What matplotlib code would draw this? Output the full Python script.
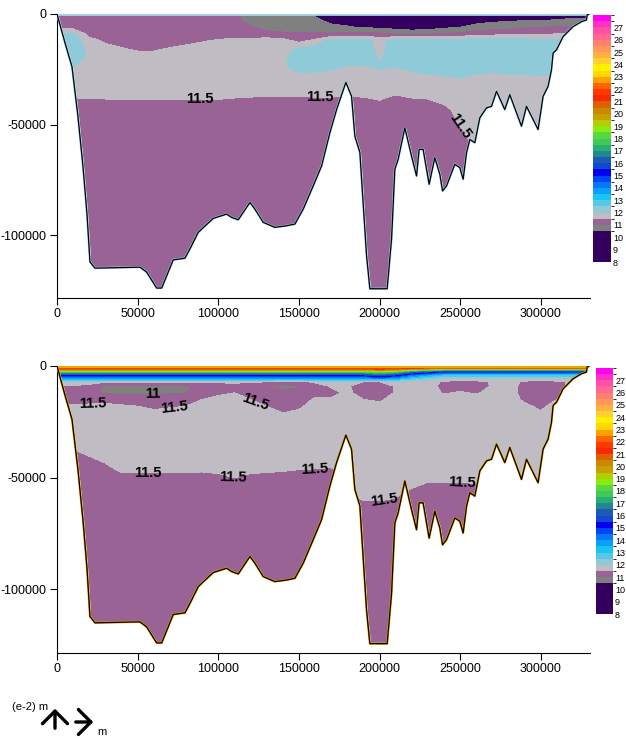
import numpy as np
import matplotlib
matplotlib.use('Agg')
import matplotlib.pyplot as plt
from matplotlib.colors import ListedColormap, BoundaryNorm
from matplotlib.patches import FancyArrowPatch

plt.rcParams['font.family'] = ['Liberation Sans', 'DejaVu Sans']

# station positions along the section and depth levels
stations = [0, 10000, 20000, 30000, 40000, 50000, 60000, 70000, 80000, 90000, 100000,
            110000, 120000, 130000, 140000, 150000, 160000, 170000, 180000, 190000, 200000,
            210000, 220000, 230000, 240000, 250000, 260000, 270000, 280000, 290000, 300000,
            310000, 320000, 330000]
depth_top = [0, -3000, -6000, -9000, -12000, -16000, -20000, -24000, -28000, -33000,
             -38000, -43000, -50000, -60000, -130000]
depth_bot = [0, -1200, -2500, -4000, -5500, -7000, -9000, -12000, -15000, -18000, -21000,
             -26000, -32000, -38000, -44000, -50000, -58000, -70000, -130000]

# upper panel, one column per station (surface to bottom)
temp_top = [
    [11.25, 11.25, 11.3, 12.1, 12.25, 12.25, 12.25, 12.0, 11.75, 11.7, 11.5, 11.3, 11.25, 11.25, 11.25],
    [11.25, 11.25, 11.3, 12.1, 12.25, 12.25, 12.25, 12.0, 11.75, 11.7, 11.5, 11.3, 11.25, 11.25, 11.25],
    [11.25, 11.25, 11.25, 11.3, 11.7, 11.9, 11.9, 11.9, 11.75, 11.7, 11.52, 11.3, 11.25, 11.25, 11.25],
    [11.25, 11.25, 11.25, 11.25, 11.4, 11.7, 11.8, 11.8, 11.75, 11.7, 11.52, 11.3, 11.25, 11.25, 11.25],
    [11.25, 11.25, 11.25, 11.25, 11.3, 11.55, 11.75, 11.8, 11.75, 11.7, 11.53, 11.3, 11.25, 11.25, 11.25],
    [11.25, 11.25, 11.25, 11.25, 11.25, 11.45, 11.7, 11.8, 11.75, 11.7, 11.52, 11.3, 11.25, 11.25, 11.25],
    [11.25, 11.25, 11.25, 11.25, 11.25, 11.45, 11.7, 11.8, 11.75, 11.7, 11.53, 11.3, 11.25, 11.25, 11.25],
    [11.25, 11.25, 11.25, 11.25, 11.3, 11.55, 11.75, 11.8, 11.75, 11.7, 11.52, 11.3, 11.25, 11.25, 11.25],
    [11.25, 11.25, 11.25, 11.25, 11.35, 11.65, 11.75, 11.8, 11.75, 11.7, 11.53, 11.3, 11.25, 11.25, 11.25],
    [11.25, 11.25, 11.25, 11.25, 11.45, 11.75, 11.8, 11.8, 11.75, 11.7, 11.52, 11.3, 11.25, 11.25, 11.25],
    [11.2, 11.2, 11.25, 11.25, 11.55, 11.75, 11.8, 11.8, 11.75, 11.7, 11.53, 11.3, 11.25, 11.25, 11.25],
    [11.1, 11.15, 11.2, 11.3, 11.6, 11.75, 11.8, 11.8, 11.75, 11.72, 11.5, 11.3, 11.25, 11.25, 11.25],
    [10.75, 10.8, 11.05, 11.3, 11.6, 11.75, 11.8, 11.8, 11.75, 11.72, 11.48, 11.3, 11.25, 11.25, 11.25],
    [10.7, 10.7, 10.8, 11.2, 11.7, 11.75, 11.8, 11.85, 11.8, 11.75, 11.46, 11.3, 11.25, 11.25, 11.25],
    [10.7, 10.7, 10.75, 11.1, 11.65, 11.8, 11.9, 11.9, 11.8, 11.75, 11.46, 11.3, 11.25, 11.25, 11.25],
    [10.6, 10.7, 10.75, 11.05, 11.35, 12.1, 12.25, 12.2, 11.9, 11.75, 11.46, 11.3, 11.25, 11.25, 11.25],
    [10.4, 10.65, 10.75, 11.1, 11.6, 12.25, 12.3, 12.2, 11.85, 11.75, 11.48, 11.3, 11.25, 11.25, 11.25],
    [10.1, 10.35, 10.65, 11.05, 12.2, 12.3, 12.3, 12.1, 11.85, 11.75, 11.48, 11.25, 11.25, 11.25, 11.25],
    [10.0, 10.3, 10.55, 11.15, 12.25, 12.3, 12.25, 11.95, 11.8, 11.75, 11.45, 11.25, 11.25, 11.25, 11.25],
    [9.9, 10.25, 10.45, 11.15, 12.25, 12.3, 12.2, 11.95, 11.8, 11.75, 11.48, 11.25, 11.25, 11.25, 11.25],
    [9.8, 10.2, 10.4, 11.1, 11.8, 11.85, 11.95, 12.05, 11.85, 11.75, 11.55, 11.3, 11.25, 11.25, 11.25],
    [9.6, 9.95, 10.3, 10.95, 12.25, 12.3, 12.25, 12.0, 11.8, 11.7, 11.42, 11.25, 11.25, 11.25, 11.25],
    [9.5, 9.85, 10.2, 10.9, 12.25, 12.3, 12.3, 12.15, 11.85, 11.7, 11.5, 11.3, 11.25, 11.25, 11.25],
    [9.6, 9.95, 10.25, 10.95, 12.25, 12.3, 12.3, 12.25, 11.95, 11.75, 11.52, 11.3, 11.25, 11.25, 11.25],
    [9.7, 10.05, 10.4, 11.05, 12.25, 12.3, 12.3, 12.3, 12.0, 11.8, 11.65, 11.4, 11.3, 11.25, 11.25],
    [9.8, 10.15, 10.5, 11.1, 12.25, 12.3, 12.3, 12.3, 12.05, 11.8, 11.7, 11.65, 11.52, 11.3, 11.3],
    [9.9, 10.3, 10.7, 11.25, 12.25, 12.3, 12.3, 12.2, 11.95, 11.8, 11.75, 11.7, 11.65, 11.55, 11.4],
    [10.0, 10.4, 10.8, 11.35, 12.2, 12.3, 12.3, 12.15, 11.9, 11.8, 11.75, 11.75, 11.7, 11.65, 11.6],
    [10.0, 10.45, 10.85, 11.4, 12.2, 12.3, 12.3, 12.2, 11.95, 11.8, 11.75, 11.75, 11.7, 11.7, 11.7],
    [10.1, 10.5, 10.95, 11.45, 12.2, 12.3, 12.3, 12.25, 11.95, 11.8, 11.75, 11.75, 11.75, 11.75, 11.75],
    [10.1, 10.5, 11.0, 11.45, 12.1, 12.3, 12.3, 12.25, 12.0, 11.8, 11.75, 11.75, 11.75, 11.75, 11.75],
    [10.2, 10.55, 11.05, 11.5, 12.15, 12.2, 12.2, 12.15, 11.9, 11.8, 11.75, 11.75, 11.75, 11.75, 11.75],
    [10.3, 10.6, 11.1, 11.5, 11.8, 11.75, 11.75, 11.75, 11.75, 11.75, 11.75, 11.75, 11.75, 11.75, 11.75],
    [10.3, 10.6, 11.1, 11.5, 11.8, 11.75, 11.75, 11.75, 11.75, 11.75, 11.75, 11.75, 11.75, 11.75, 11.75],
]

# lower panel: warm surface layer, then the rest of each column
surf_left = [23.5, 21.0, 18.0, 15.5, 13.6]
surf_mid = [23.5, 21.5, 18.5, 16.0, 14.0]
surf_a = [23.5, 20.5, 16.5, 14.2, 12.8]
surf_b = [23.5, 20.0, 15.8, 13.5, 12.3]
surf_right = [23.5, 19.5, 15.0, 12.9, 12.0]
temp_bot = [
    surf_left + [11.9, 11.45, 11.25, 11.3, 11.55, 11.75, 11.75, 11.75, 11.47, 11.3, 11.25, 11.25, 11.25, 11.25],
    surf_left + [11.9, 11.45, 11.25, 11.3, 11.55, 11.75, 11.75, 11.75, 11.47, 11.3, 11.25, 11.25, 11.25, 11.25],
    surf_left + [11.8, 11.3, 11.15, 11.3, 11.6, 11.75, 11.75, 11.75, 11.6, 11.35, 11.25, 11.25, 11.25, 11.25],
    surf_left + [11.6, 10.9, 10.95, 11.35, 11.6, 11.75, 11.75, 11.75, 11.72, 11.48, 11.3, 11.25, 11.25, 11.25],
    surf_left + [11.6, 10.85, 10.9, 11.3, 11.55, 11.75, 11.75, 11.75, 11.75, 11.68, 11.4, 11.25, 11.25, 11.25],
    surf_left + [11.6, 10.85, 10.9, 11.25, 11.5, 11.7, 11.75, 11.75, 11.75, 11.68, 11.4, 11.25, 11.25, 11.25],
    surf_left + [11.6, 10.85, 10.95, 11.2, 11.4, 11.6, 11.75, 11.75, 11.75, 11.68, 11.4, 11.25, 11.25, 11.25],
    surf_left + [11.6, 10.85, 10.95, 11.25, 11.45, 11.65, 11.75, 11.75, 11.75, 11.68, 11.4, 11.25, 11.25, 11.25],
    surf_left + [11.6, 10.9, 11.0, 11.3, 11.5, 11.7, 11.75, 11.75, 11.75, 11.68, 11.4, 11.25, 11.25, 11.25],
    surf_left + [11.6, 11.2, 11.3, 11.5, 11.7, 11.75, 11.75, 11.75, 11.75, 11.66, 11.38, 11.25, 11.25, 11.25],
    surf_left + [11.6, 11.25, 11.4, 11.65, 11.75, 11.75, 11.75, 11.75, 11.75, 11.68, 11.42, 11.25, 11.25, 11.25],
    surf_left + [11.6, 11.3, 11.5, 11.7, 11.75, 11.75, 11.75, 11.75, 11.75, 11.7, 11.5, 11.3, 11.25, 11.25],
    surf_left + [11.6, 11.2, 11.3, 11.5, 11.7, 11.75, 11.75, 11.75, 11.75, 11.68, 11.42, 11.25, 11.25, 11.25],
    surf_left + [11.5, 11.0, 11.2, 11.35, 11.5, 11.7, 11.75, 11.75, 11.75, 11.66, 11.4, 11.25, 11.25, 11.25],
    surf_left + [11.4, 10.9, 11.1, 11.25, 11.35, 11.5, 11.75, 11.75, 11.75, 11.64, 11.38, 11.25, 11.25, 11.25],
    surf_left + [11.4, 10.95, 11.15, 11.3, 11.4, 11.6, 11.75, 11.75, 11.75, 11.6, 11.35, 11.25, 11.25, 11.25],
    surf_left + [11.6, 11.25, 11.35, 11.55, 11.75, 11.75, 11.75, 11.75, 11.75, 11.58, 11.35, 11.25, 11.25, 11.25],
    surf_left + [11.75, 11.55, 11.35, 11.55, 11.75, 11.75, 11.75, 11.75, 11.75, 11.55, 11.35, 11.25, 11.25, 11.25],
    surf_left + [11.75, 11.55, 11.6, 11.75, 11.75, 11.75, 11.75, 11.75, 11.65, 11.55, 11.5, 11.45, 11.3, 11.3],
    surf_left + [11.5, 11.3, 11.3, 11.5, 11.75, 11.75, 11.75, 11.75, 11.75, 11.75, 11.7, 11.55, 11.3, 11.25],
    surf_mid + [11.5, 11.2, 10.9, 11.4, 11.7, 11.75, 11.75, 11.75, 11.75, 11.75, 11.7, 11.55, 11.3, 11.25],
    surf_left + [11.7, 11.55, 11.6, 11.75, 11.75, 11.75, 11.75, 11.75, 11.75, 11.72, 11.65, 11.52, 11.3, 11.25],
    surf_a + [11.8, 11.75, 11.75, 11.75, 11.75, 11.75, 11.75, 11.75, 11.75, 11.7, 11.62, 11.42, 11.3, 11.25],
    surf_b + [11.8, 11.75, 11.75, 11.75, 11.75, 11.75, 11.75, 11.75, 11.75, 11.7, 11.55, 11.35, 11.25, 11.25],
    surf_right + [11.4, 11.3, 11.45, 11.7, 11.75, 11.75, 11.75, 11.75, 11.75, 11.7, 11.55, 11.35, 11.25, 11.25],
    surf_right + [11.35, 11.3, 11.55, 11.75, 11.75, 11.75, 11.75, 11.75, 11.75, 11.7, 11.55, 11.35, 11.25, 11.25],
    surf_right + [11.35, 11.3, 11.45, 11.7, 11.75, 11.75, 11.75, 11.75, 11.75, 11.7, 11.55, 11.4, 11.3, 11.3],
    surf_right + [11.55, 11.55, 11.65, 11.75, 11.75, 11.75, 11.75, 11.75, 11.75, 11.75, 11.75, 11.75, 11.75, 11.75],
    surf_right + [11.75, 11.75, 11.75, 11.75, 11.75, 11.75, 11.75, 11.75, 11.75, 11.75, 11.75, 11.75, 11.75, 11.75],
    surf_right + [11.4, 11.3, 11.3, 11.4, 11.6, 11.75, 11.75, 11.75, 11.75, 11.75, 11.75, 11.75, 11.75, 11.75],
    surf_right + [11.3, 11.25, 11.25, 11.3, 11.4, 11.55, 11.75, 11.75, 11.75, 11.75, 11.75, 11.75, 11.75, 11.75],
    surf_right + [11.4, 11.3, 11.35, 11.5, 11.7, 11.75, 11.75, 11.75, 11.75, 11.75, 11.75, 11.75, 11.75, 11.75],
    surf_right + [11.6, 11.7, 11.75, 11.75, 11.75, 11.75, 11.75, 11.75, 11.75, 11.75, 11.75, 11.75, 11.75, 11.75],
    surf_right + [11.6, 11.7, 11.75, 11.75, 11.75, 11.75, 11.75, 11.75, 11.75, 11.75, 11.75, 11.75, 11.75, 11.75],
]

# bottom profile
bottom_x = [0, 4960, 9300, 13000, 16100, 18600, 20450, 23550, 51440, 55600, 61800, 64900, 72080,
            79340, 82430, 87580, 96880, 105180, 108280, 112370, 115470, 119620, 122720, 127870,
            135110, 142370, 147510, 152660, 158850, 164060, 169200, 173360, 179120, 182650,
            184700, 187800, 191950, 194000, 204720, 207450, 209490, 211540, 215690, 219840,
            222940, 224550, 227030, 230750, 234280, 237390, 239060, 241540, 246680, 249780,
            251830, 253940, 255980, 259080, 262180, 266330, 269430, 272530, 277670, 280770,
            288020, 291120, 298310, 301410, 304510, 306610, 307610, 309720, 313810, 320010,
            325210, 328310, 328700, 330000]
bottom_z = [0, -13060, -23870, -46400, -68920, -90540, -112160, -115000, -114550, -116800,
            -124000, -124000, -111260, -110500, -106300, -98780, -92480, -90540, -92030, -93110,
            -89780, -85270, -88290, -94280, -96530, -95810, -95050, -88290, -77790, -68780,
            -53740, -43240, -30950, -37250, -55270, -62610, -109330, -124320, -124320, -101800,
            -70270, -65770, -51490, -64280, -73290, -61260, -61260, -77030, -65000, -72520,
            -80050, -77790, -68020, -69500, -74770, -62750, -56760, -58240, -46980, -42480,
            -41760, -35000, -43240, -36490, -50770, -41760, -52250, -37250, -32750, -25230,
            -17700, -16220, -10230, -5720, -3470, -2700, -450, 0]

levels = [8, 10.5, 11, 11.5, 12, 12.5, 13, 13.5, 14, 14.5, 15, 15.5, 16, 16.5, 17, 17.5, 18,
          18.5, 19, 19.5, 20, 20.5, 21, 21.5, 22, 22.5, 23, 23.5, 24, 24.5, 25, 25.5, 26,
          26.5, 27, 27.5, 28]
colors = ['#33005f', '#808080', '#9a6396', '#c0bcc4', '#8ecad8', '#58c8e6', '#18c4f4',
          '#08a0f8', '#0878f8', '#0044f4', '#0000ee', '#1048d0', '#2058b8', '#208890',
          '#28b070', '#40c858', '#58d840', '#88ec10', '#b4cc00', '#c8a000', '#c88800',
          '#e06000', '#f82800', '#ff3a00', '#ff6400', '#ffa000', '#ffd800', '#fff000',
          '#ffd030', '#ffb040', '#ff9858', '#ff8070', '#ff6890', '#ff50a8', '#ff30c8',
          '#ff00f0']
cmap = ListedColormap(colors)
norm = BoundaryNorm(levels, cmap.N)

fig = plt.figure(figsize=(6.26, 7.38), dpi=100)
W, H = 626, 738


def px_axes(x0, y0, x1, y1):
    return fig.add_axes([x0 / W, 1 - y1 / H, (x1 - x0) / W, (y1 - y0) / H])


def panel(ax, cax, depths, cols, edge_color, lab115, lab11):
    X, Y = np.meshgrid(stations, depths)
    T = np.array(cols).T
    cf = ax.contourf(X, Y, T, levels=levels, cmap=cmap, norm=norm, zorder=1)
    ax.fill_between(bottom_x, bottom_z, -140000, color='white', zorder=2)
    ax.plot(bottom_x, bottom_z, color=edge_color, lw=1.6, zorder=3)
    ax.plot(bottom_x, bottom_z, color='black', lw=0.9, zorder=4)
    ax.plot([bottom_x[0], bottom_x[-2]], [0, 0], color=edge_color, lw=2.0, zorder=3)
    cs = ax.contour(X, Y, T, levels=[11.5], colors='k', linewidths=0, zorder=5)
    ax.clabel(cs, manual=lab115, fmt='%g', fontsize=10.5, inline=True, colors='k')
    for t in cs.labelTexts:
        t.set_fontweight('bold')
    if lab11:
        cs2 = ax.contour(X, Y, T, levels=[11], colors='k', linewidths=0, zorder=5)
        ax.clabel(cs2, manual=lab11, fmt='%g', fontsize=10.5, inline=True, colors='k')
        for t in cs2.labelTexts:
            t.set_fontweight('bold')
    ax.set_xlim(0, 330500)
    ax.set_ylim(-128500, 0)
    ax.set_xticks([0, 50000, 100000, 150000, 200000, 250000, 300000])
    ax.set_xticklabels(['0', '50000', '100000', '150000', '200000', '250000', '300000'])
    ax.set_yticks([0, -50000, -100000])
    ax.set_yticklabels(['0', '-50000', '-100000'])
    for s in ['top', 'right']:
        ax.spines[s].set_visible(False)
    ax.tick_params(labelsize=9, length=5, width=0.8, pad=2.5)
    ax.set_facecolor('white')

    cb = fig.colorbar(cf, cax=cax, spacing='proportional', ticks=list(range(8, 28)))
    cb.outline.set_visible(False)
    cax.tick_params(length=0, labelsize=6.5, pad=1.5)


ax1 = px_axes(57, 14, 590, 298)
cax1 = px_axes(593, 15, 611, 262)
panel(ax1, cax1, depth_top, temp_top, '#9fd8e8',
      [(88700, -39600), (163000, -39600), (248600, -51400)], None)

ax2 = px_axes(57, 366, 590, 653)
cax2 = px_axes(596, 368, 613, 614)
panel(ax2, cax2, depth_bot, temp_bot, '#f0a800',
      [(22300, -15400), (73100, -19000), (122700, -16400), (56400, -48600),
       (109100, -50000), (160000, -49000), (203300, -60900), (251000, -51400)],
      [(59500, -13600)])

fig.text(12 / W, 1 - 710 / H, '(e-2) m', fontsize=8)
fig.text(97 / W, 1 - 735 / H, 'm', fontsize=8)
fig.patches.append(FancyArrowPatch(
    (55 / W, 1 - 731 / H), (55 / W, 1 - 706 / H), transform=fig.transFigure,
    arrowstyle='->,head_length=0.45,head_width=0.45', lw=2.4, mutation_scale=20, color='black'))
fig.patches.append(FancyArrowPatch(
    (73 / W, 1 - 722 / H), (96 / W, 1 - 722 / H), transform=fig.transFigure,
    arrowstyle='->,head_length=0.45,head_width=0.45', lw=2.4, mutation_scale=20, color='black'))

fig.savefig('out.png', dpi=100)
